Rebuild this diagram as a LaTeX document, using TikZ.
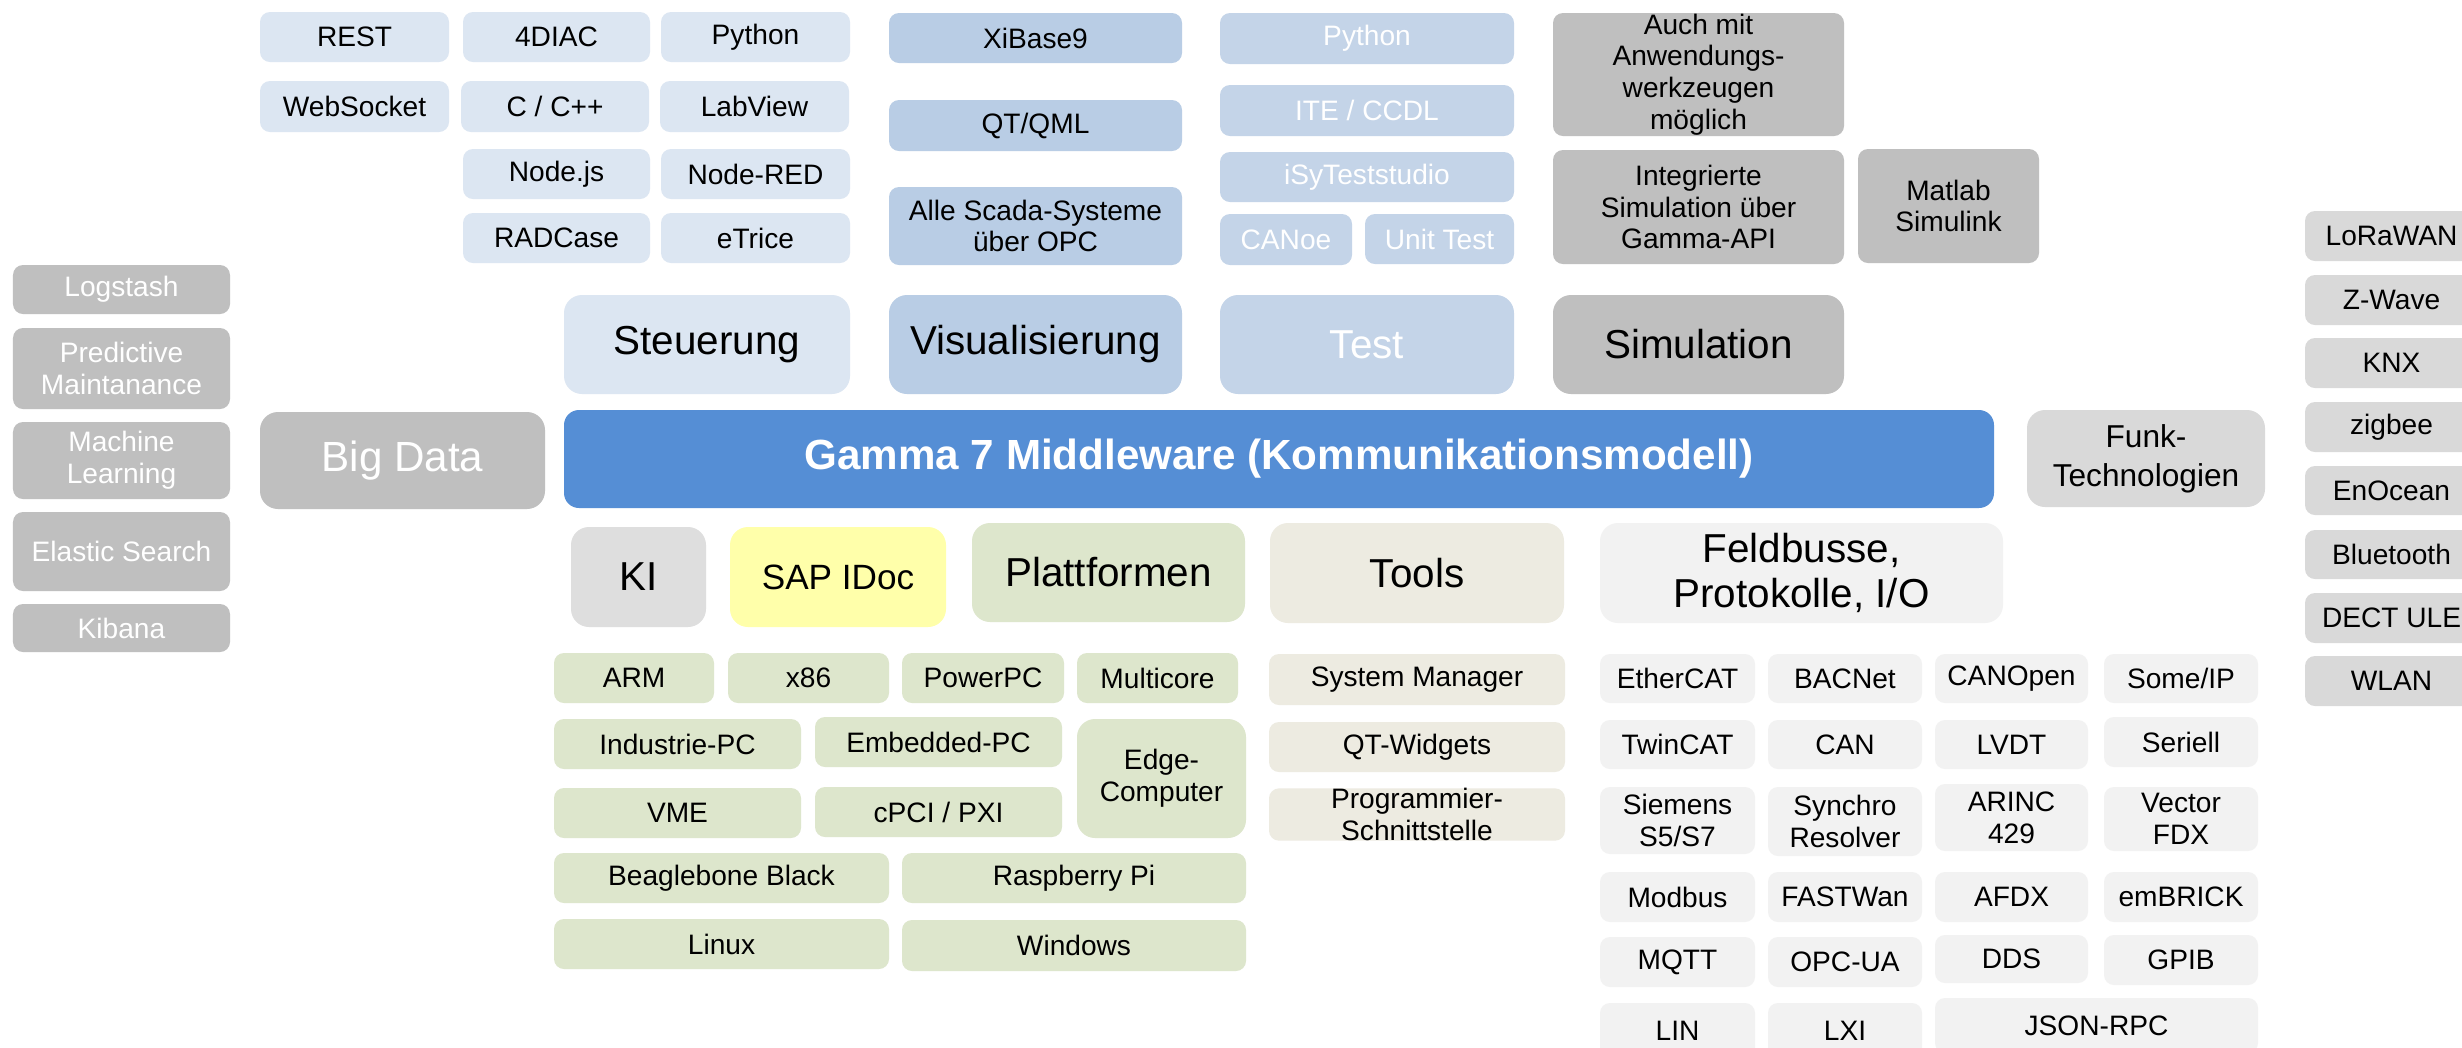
\documentclass[tikz,border=0pt]{standalone}
\usepackage{fontspec}
\setmainfont{Liberation Sans}
\definecolor{stgblue}{HTML}{DCE6F2}
\definecolor{visblue}{HTML}{B9CDE5}
\definecolor{tstblue}{HTML}{C4D4E8}
\definecolor{simgrey}{HTML}{BFBFBF}
\definecolor{funkgrey}{HTML}{D9D9D9}
\definecolor{kigrey}{HTML}{DEDEDE}
\definecolor{sapyellow}{HTML}{FFFFAA}
\definecolor{pltgreen}{HTML}{DDE6CC}
\definecolor{toolbeige}{HTML}{EDEBE1}
\definecolor{fldgrey}{HTML}{F2F2F2}
\definecolor{gammablue}{HTML}{558ED5}
\tikzset{tile/.style={rounded corners=0.1cm, inner sep=0pt, outer sep=0pt, align=center, font=\fontsize{8}{9}\selectfont}}
\tikzset{big/.style={rounded corners=0.18cm, font=\fontsize{11.5}{13}\selectfont}}
\tikzset{stg/.style={tile, fill=stgblue}}
\tikzset{vis/.style={tile, fill=visblue}}
\tikzset{tst/.style={tile, fill=tstblue, text=white}}
\tikzset{sim/.style={tile, fill=simgrey}}
\tikzset{bigdata/.style={tile, fill=simgrey, text=white}}
\tikzset{funk/.style={tile, fill=funkgrey}}
\tikzset{plt/.style={tile, fill=pltgreen}}
\tikzset{tls/.style={tile, fill=toolbeige}}
\tikzset{fld/.style={tile, fill=fldgrey}}
% box from pixel corners (x1,y1) to (x2,y2), y pointing down
\newcommand{\blk}[7]{%
  \pgfmathsetmacro{\blkw}{(#5-#3)/100}%
  \pgfmathsetmacro{\blkh}{(#6-#4)/100}%
  \pgfmathsetmacro{\blkx}{(#3+#5)/200}%
  \pgfmathsetmacro{\blky}{-(#4+#6)/200}%
  \node[#1, minimum width=\blkw cm, minimum height=\blkh cm] (#2) at (\blkx,\blky) {#7};}

\begin{document}
\begin{tikzpicture}
  \useasboundingbox (0,0) rectangle (24.62,-10.47);
  \fill[white] (0,0) rectangle (24.62,-10.47);

  % Steuerung
  \blk{stg}{rest}{260}{12}{449}{62}{REST}
  \blk{stg}{diac}{463}{12}{650}{62}{4DIAC}
  \blk{stg}{pysteu}{661}{12}{850}{62}{Python}
  \blk{stg}{websock}{260}{81}{449}{132}{WebSocket}
  \blk{stg}{cpp}{461}{81}{649}{132}{C / C++}
  \blk{stg}{labview}{660}{81}{849}{132}{LabView}
  \blk{stg}{nodejs}{463}{149}{650}{199}{Node.js}
  \blk{stg}{nodered}{661}{149}{850}{199}{Node-RED}
  \blk{stg}{radcase}{463}{213}{650}{263}{RADCase}
  \blk{stg}{etrice}{661}{213}{850}{263}{eTrice}
  \blk{stg,big}{steuerung}{564}{295}{850}{394}{Steuerung}

  % Visualisierung
  \blk{vis}{xibase}{889}{13}{1182}{63}{XiBase9}
  \blk{vis}{qtqml}{889}{100}{1182}{151}{QT/QML}
  \blk{vis}{scada}{889}{187}{1182}{265}{Alle Scada-Systeme\\über OPC}
  \blk{vis,big}{visual}{889}{295}{1182}{394}{Visualisierung}

  % Test
  \blk{tst}{pytest}{1220}{13}{1514}{64}{Python}
  \blk{tst}{iteccdl}{1220}{85}{1514}{136}{ITE / CCDL}
  \blk{tst}{isy}{1220}{152}{1514}{202}{iSyTeststudio}
  \blk{tst}{canoe}{1220}{214}{1352}{265}{CANoe}
  \blk{tst}{unittest}{1365}{214}{1514}{264}{Unit Test}
  \blk{tst,big}{test}{1220}{295}{1514}{394}{Test}

  % Simulation
  \blk{sim}{auchmit}{1553}{13}{1844}{136}{Auch mit\\Anwendungs-\\werkzeugen\\möglich}
  \blk{sim}{integ}{1553}{150}{1844}{264}{Integrierte\\Simulation über\\Gamma-API}
  \blk{sim}{matlab}{1858}{149}{2039}{263}{Matlab\\Simulink}
  \blk{sim,big}{simul}{1553}{295}{1844}{394}{Simulation}

  % Middleware
  \blk{tile, rounded corners=0.15cm, fill=gammablue, text=white, font=\fontsize{12}{14}\selectfont\bfseries}{gamma}{564}{410}{1994}{508}{Gamma 7 Middleware (Kommunikationsmodell)}
  \blk{bigdata, big, font=\fontsize{12}{14}\selectfont}{bigdata}{260}{412}{545}{509}{Big Data}
  \blk{funk, big, font=\fontsize{9}{11}\selectfont}{funktech}{2027}{410}{2265}{507}{Funk-\\Technologien}

  % Big Data
  \blk{bigdata}{logstash}{13}{265}{230}{314}{Logstash}
  \blk{bigdata}{predict}{13}{328}{230}{409}{Predictive\\Maintanance}
  \blk{bigdata}{machlearn}{13}{422}{230}{499}{Machine\\Learning}
  \blk{bigdata}{elastic}{13}{512}{230}{591}{Elastic Search}
  \blk{bigdata}{kibana}{13}{604}{230}{652}{Kibana}

  % Funk
  \blk{funk}{lorawan}{2305}{211}{2478}{261}{LoRaWAN}
  \blk{funk}{zwave}{2305}{275}{2478}{325}{Z-Wave}
  \blk{funk}{knx}{2305}{338}{2478}{388}{KNX}
  \blk{funk}{zigbee}{2305}{402}{2478}{452}{zigbee}
  \blk{funk}{enocean}{2305}{466}{2478}{515}{EnOcean}
  \blk{funk}{bluetooth}{2305}{530}{2478}{579}{Bluetooth}
  \blk{funk}{dectule}{2305}{593}{2478}{643}{DECT ULE}
  \blk{funk}{wlan}{2305}{656}{2478}{706}{WLAN}

  % lower categories
  \blk{tile, big, fill=kigrey}{ki}{571}{527}{706}{627}{KI}
  \blk{tile, big, fill=sapyellow, font=\fontsize{10}{12}\selectfont}{sapidoc}{730}{527}{946}{627}{SAP IDoc}
  \blk{plt, big}{plattformen}{972}{523}{1245}{622}{Plattformen}
  \blk{tls, big}{tools}{1270}{523}{1564}{623}{Tools}
  \blk{fld, big}{feldbusse}{1600}{523}{2003}{623}{Feldbusse,\\Protokolle, I/O}

  % Plattformen
  \blk{plt}{arm}{554}{653}{714}{703}{ARM}
  \blk{plt}{xsix}{728}{653}{889}{703}{x86}
  \blk{plt}{powerpc}{902}{653}{1064}{703}{PowerPC}
  \blk{plt}{multicore}{1077}{653}{1238}{703}{Multicore}
  \blk{plt}{indpc}{554}{719}{801}{769}{Industrie-PC}
  \blk{plt}{embpc}{815}{717}{1062}{767}{Embedded-PC}
  \blk{plt, rounded corners=0.18cm}{edge}{1077}{719}{1246}{838}{Edge-\\Computer}
  \blk{plt}{vme}{554}{788}{801}{838}{VME}
  \blk{plt}{cpci}{815}{787}{1062}{837}{cPCI / PXI}
  \blk{plt}{beagle}{554}{853}{889}{903}{Beaglebone Black}
  \blk{plt}{raspi}{902}{853}{1246}{903}{Raspberry Pi}
  \blk{plt}{linux}{554}{919}{889}{969}{Linux}
  \blk{plt}{windows}{902}{920}{1246}{971}{Windows}

  % Tools
  \blk{tls}{sysman}{1269}{654}{1565}{705}{System Manager}
  \blk{tls}{qtwidgets}{1269}{722}{1565}{772}{QT-Widgets}
  \blk{tls}{progif}{1269}{789}{1565}{840}{Programmier-\\Schnittstelle}

  % Feldbusse, Protokolle
  \blk{fld}{ethercat}{1600}{654}{1755}{703}{EtherCAT}
  \blk{fld}{bacnet}{1768}{654}{1922}{703}{BACNet}
  \blk{fld}{canopen}{1935}{654}{2088}{703}{CANOpen}
  \blk{fld}{someip}{2104}{654}{2258}{703}{Some/IP}
  \blk{fld}{twincat}{1600}{720}{1755}{769}{TwinCAT}
  \blk{fld}{can}{1768}{720}{1922}{769}{CAN}
  \blk{fld}{lvdt}{1935}{720}{2088}{769}{LVDT}
  \blk{fld}{seriell}{2104}{717}{2258}{767}{Seriell}
  \blk{fld}{siemens}{1600}{787}{1755}{854}{Siemens\\S5/S7}
  \blk{fld}{synchro}{1768}{787}{1922}{856}{Synchro\\Resolver}
  \blk{fld}{arinc}{1935}{784}{2088}{851}{ARINC\\429}
  \blk{fld}{vectorfdx}{2104}{787}{2258}{851}{Vector\\FDX}
  \blk{fld}{modbus}{1600}{872}{1755}{922}{Modbus}
  \blk{fld}{fastwan}{1768}{872}{1922}{922}{FASTWan}
  \blk{fld}{afdx}{1935}{872}{2088}{922}{AFDX}
  \blk{fld}{embrick}{2104}{872}{2258}{922}{emBRICK}
  \blk{fld}{mqtt}{1600}{937}{1755}{987}{MQTT}
  \blk{fld}{opcua}{1768}{937}{1922}{987}{OPC-UA}
  \blk{fld}{dds}{1935}{935}{2088}{983}{DDS}
  \blk{fld}{gpib}{2104}{935}{2258}{985}{GPIB}
  \blk{fld}{lin}{1600}{1003}{1755}{1058}{LIN}
  \blk{fld}{lxi}{1768}{1003}{1922}{1058}{LXI}
  \blk{fld}{jsonrpc}{1935}{998}{2258}{1053}{JSON-RPC}
\end{tikzpicture}
\end{document}
